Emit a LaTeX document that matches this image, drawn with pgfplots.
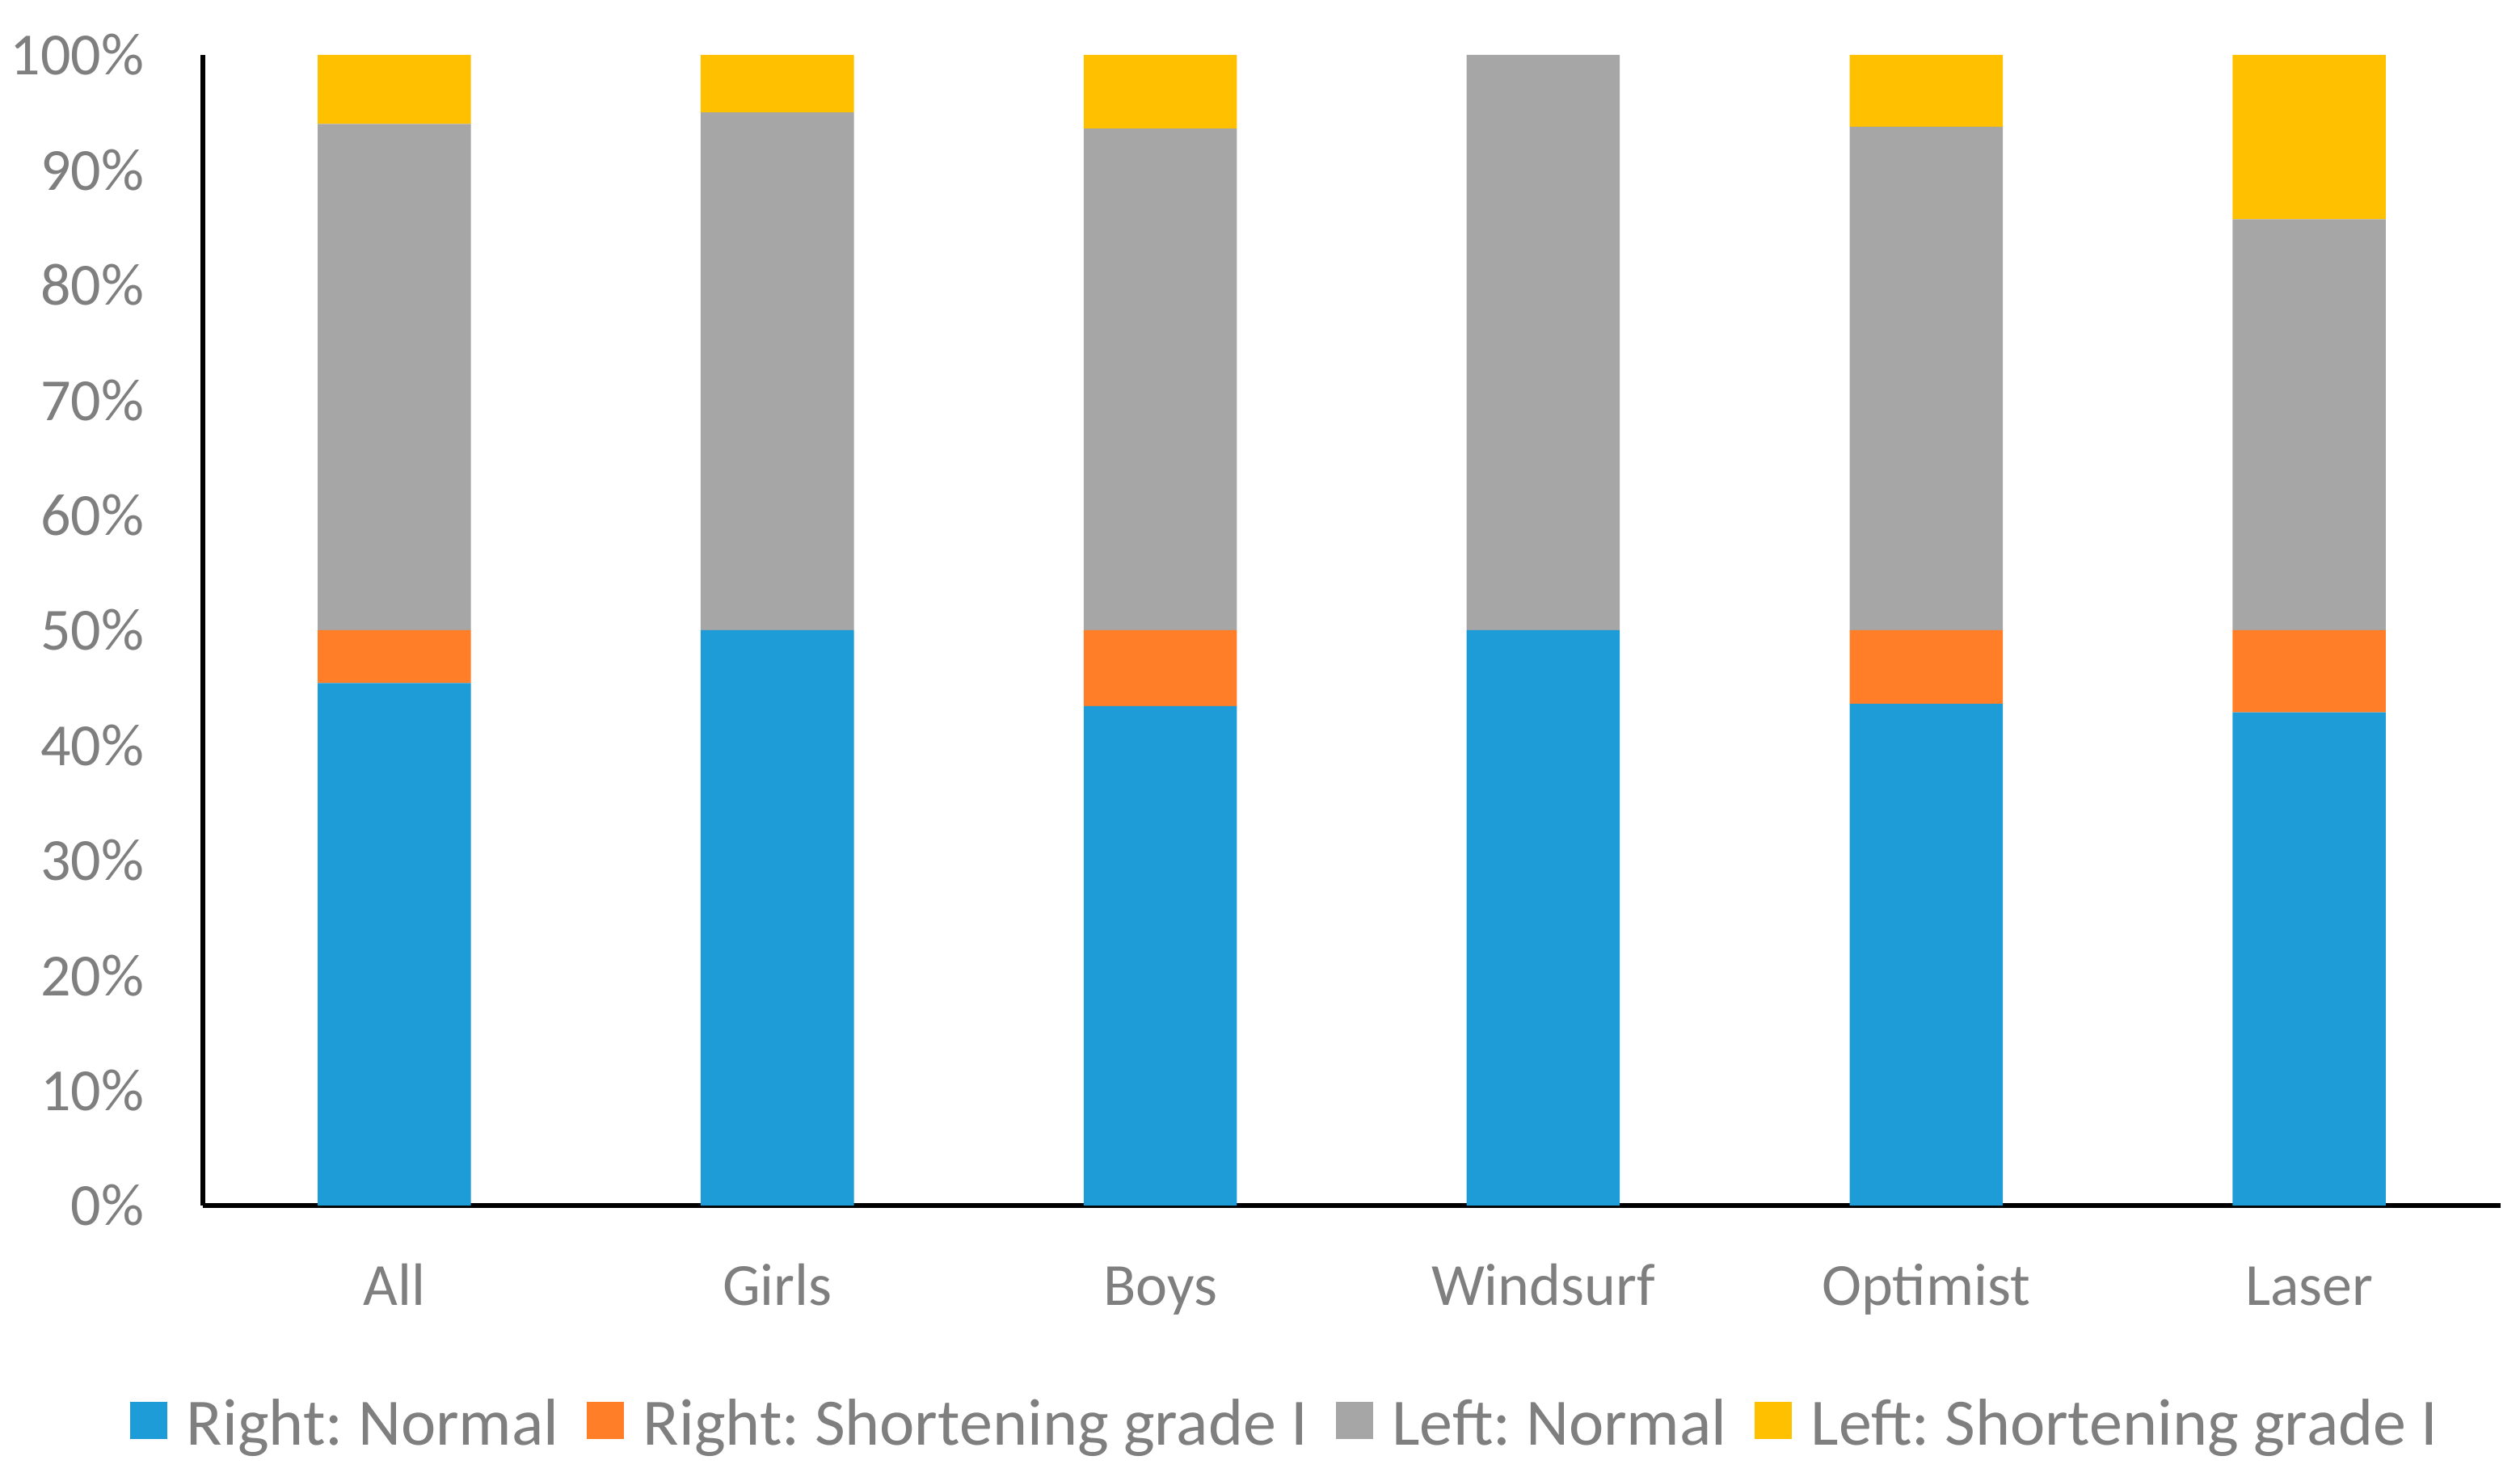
\documentclass[border=0pt]{standalone}
\usepackage{pgfplots}
\usepackage{pgfplotstable}
\pgfplotsset{compat=1.18}
\usepackage{fontspec}
\setmainfont{Carlito}
\frenchspacing
\definecolor{cblue}{RGB}{30,156,216}
\definecolor{corange}{RGB}{255,126,39}
\definecolor{cgray}{RGB}{166,166,166}
\definecolor{cyellow}{RGB}{255,192,0}
\definecolor{txt}{RGB}{127,127,127}
\pgfplotstableread{
x blue orange gray yellow
0 45.4 4.6 44.0 6.0
1 50 0 45 5
2 43.4 6.6 43.6 6.4
3 50 0 50 0
4 43.6 6.4 43.75 6.25
5 42.86 7.14 35.71 14.29
}\datatab
\begin{document}
\frenchspacing
\begin{tikzpicture}
\begin{axis}[
  name=ax,
  scale only axis,
  width=710.75pt, height=356pt,
  ybar stacked,
  bar width=0.4,
  xmin=-0.5, xmax=5.5, ymin=0, ymax=100,
  enlarge x limits=false, enlarge y limits=false,
  axis x line=bottom, axis y line=left,
  axis line style={black, line width=1.5pt, -},
  major tick length=0pt,
  xtick={0,1,2,3,4,5},
  xticklabels={All,Girls,Boys,Windsurf,Optimist,Laser},
  ytick={0,10,20,30,40,50,60,70,80,90,100},
  yticklabels={0\%,10\%,20\%,30\%,40\%,50\%,60\%,70\%,80\%,90\%,100\%},
  tick label style={font=\fontsize{18.5}{22}\selectfont, text=txt},
  xticklabel style={anchor=base, yshift=-30.75pt, inner sep=0pt},
  yticklabel style={anchor=east, inner sep=0pt, xshift=-18pt},
  legend columns=-1,
  legend style={draw=none, at={(0.4705,-0.19)}, anchor=center,
    font=\fontsize{20.5}{24}\selectfont\frenchspacing, text=txt,
    nodes={inner sep=0pt},
    /tikz/every odd column/.style={column sep=6pt},
    /tikz/every even column/.style={column sep=8.6pt}},
  legend image code/.code={\fill[#1,draw=none] (0pt,-4.5pt) rectangle (11.5pt,7pt);},
]
\addplot[fill=cblue, draw=none] table[x=x, y=blue] {\datatab};
\addlegendentry{Right: Normal}
\addplot[fill=corange, draw=none] table[x=x, y=orange] {\datatab};
\addlegendentry{Right: Shortening grade I}
\addplot[fill=cgray, draw=none] table[x=x, y=gray] {\datatab};
\addlegendentry{Left: Normal}
\addplot[fill=cyellow, draw=none] table[x=x, y=yellow] {\datatab};
\addlegendentry{Left: Shortening grade I}
\end{axis}
\pgfresetboundingbox
\path[use as bounding box] ([xshift=-62.75pt,yshift=-83.75pt]ax.south west) rectangle ([xshift=6pt,yshift=17pt]ax.north east);
\end{tikzpicture}
\end{document}
